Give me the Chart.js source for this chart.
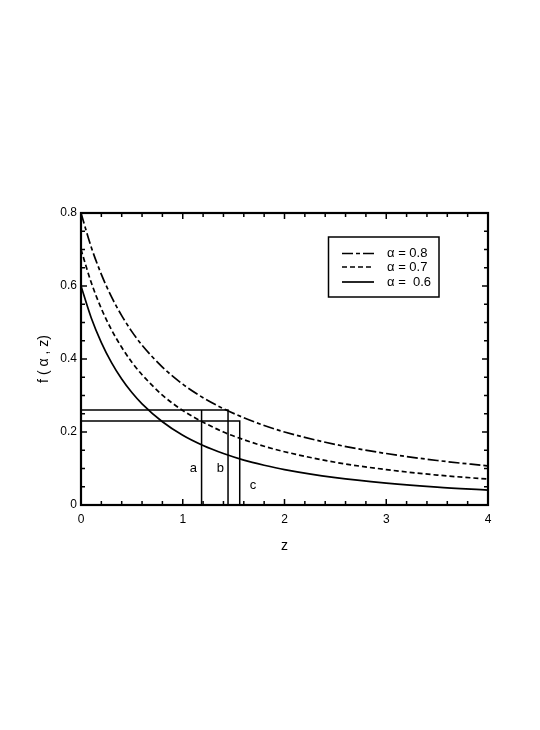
<!DOCTYPE html>
<html>
<head>
<meta charset="utf-8">
<title>f(alpha, z)</title>
<script src="https://cdn.jsdelivr.net/npm/chart.js@4.4.0/dist/chart.umd.min.js"></script>
<style>
  html, body { margin: 0; padding: 0; background: #fff; }
  #wrap { width: 540px; height: 730px; }
</style>
</head>
<body>
<div id="wrap"><canvas id="fChart" width="540" height="730"></canvas></div>
<script>
// curve samples
const zValues = [0, 0.1, 0.2, 0.3, 0.4, 0.5, 0.6, 0.8, 1.0, 1.2, 1.4, 1.6, 1.8, 2.0, 2.5, 3.0, 3.5, 4.0];
const fAlpha08 = [0.800, 0.707, 0.632, 0.570, 0.519, 0.475, 0.438, 0.378, 0.331, 0.294, 0.264, 0.239, 0.218, 0.200, 0.166, 0.141, 0.122, 0.107];
const fAlpha07 = [0.700, 0.610, 0.538, 0.480, 0.432, 0.391, 0.357, 0.301, 0.259, 0.227, 0.200, 0.179, 0.161, 0.146, 0.117, 0.097, 0.082, 0.071];
const fAlpha06 = [0.600, 0.513, 0.445, 0.390, 0.345, 0.308, 0.277, 0.228, 0.191, 0.163, 0.141, 0.123, 0.109, 0.097, 0.075, 0.060, 0.049, 0.041];
const seriesNames = ['\u03b1 = 0.8', '\u03b1 = 0.7', '\u03b1 =  0.6'];

// guide lines a, b, c and the two levels
const guideZ = [1.185, 1.445, 1.56];
const guideF = [0.26, 0.23];
const guideLabels = ['a', 'b', 'c'];
const guideLabelZ = [1.105, 1.37, 1.69];
const guideLabelF = [0.101, 0.101, 0.055];

const xTicks = [0, 1, 2, 3, 4];
const yTicks = [0, 0.2, 0.4, 0.6, 0.8];

const toPoints = (ys) => ys.map((y, i) => ({ x: zValues[i], y: y }));
const curveStyle = { borderColor: '#000', borderWidth: 1.7, pointRadius: 0, fill: false, tension: 0.4, cubicInterpolationMode: 'monotone' };
const guideStyle = { borderColor: '#000', borderWidth: 1.5, pointRadius: 0, fill: false, tension: 0 };

// rahmen, innenliegende ticks, legende und a/b/c
const framePlugin = {
    id: 'frame',
    afterDraw(chart) {
        const ctx = chart.ctx;
        const area = chart.chartArea;
        const xs = chart.scales.x, ys = chart.scales.y;
        ctx.save();
        ctx.strokeStyle = '#000';
        ctx.lineWidth = 1.5;
        ctx.setLineDash([]);
        ctx.beginPath();
        for (let k = 0; k <= 20; k++) {
            const px = xs.getPixelForValue(k * 0.2);
            const len = k % 5 === 0 ? 6 : 4;
            ctx.moveTo(px, area.bottom); ctx.lineTo(px, area.bottom - len);
            ctx.moveTo(px, area.top); ctx.lineTo(px, area.top + len);
        }
        for (let k = 0; k <= 16; k++) {
            const py = ys.getPixelForValue(k * 0.05);
            const len = k % 4 === 0 ? 6 : 4;
            ctx.moveTo(area.left, py); ctx.lineTo(area.left + len, py);
            ctx.moveTo(area.right, py); ctx.lineTo(area.right - len, py);
        }
        ctx.stroke();
        ctx.lineWidth = 2.2;
        ctx.strokeRect(area.left, area.top, area.right - area.left, area.bottom - area.top);

        // a, b, c
        ctx.fillStyle = '#000';
        ctx.font = '13px "Liberation Sans", Arial, sans-serif';
        ctx.textAlign = 'center';
        ctx.textBaseline = 'middle';
        guideLabels.forEach((t, i) => {
            ctx.fillText(t, xs.getPixelForValue(guideLabelZ[i]), ys.getPixelForValue(guideLabelF[i]));
        });

        // legende
        const bx = 328.5, by = 237, bw = 110.5, bh = 60;
        ctx.lineWidth = 1.5;
        ctx.strokeRect(bx, by, bw, bh);
        const rows = [253.5, 267, 282];
        ctx.textAlign = 'left';
        for (let i = 0; i < 3; i++) {
            const ds = chart.data.datasets[i];
            ctx.beginPath();
            ctx.lineWidth = 1.7;
            ctx.setLineDash(ds.borderDash || []);
            ctx.moveTo(342, rows[i]);
            ctx.lineTo(374, rows[i]);
            ctx.stroke();
            ctx.setLineDash([]);
            ctx.fillText(ds.label, 387, rows[i]);
        }
        ctx.restore();
    }
};

const ctx = document.getElementById('fChart').getContext('2d');
new Chart(ctx, {
    type: 'line',
    data: {
        datasets: [
            Object.assign({ label: seriesNames[0], data: toPoints(fAlpha08), borderDash: [11, 3, 4, 3] }, curveStyle),
            Object.assign({ label: seriesNames[1], data: toPoints(fAlpha07), borderDash: [5, 3] }, curveStyle),
            Object.assign({ label: seriesNames[2], data: toPoints(fAlpha06) }, curveStyle),
            Object.assign({ label: 'b', data: [{ x: 0, y: guideF[0] }, { x: guideZ[1], y: guideF[0] }, { x: guideZ[1], y: 0 }] }, guideStyle),
            Object.assign({ label: 'a', data: [{ x: guideZ[0], y: guideF[0] }, { x: guideZ[0], y: 0 }] }, guideStyle),
            Object.assign({ label: 'c', data: [{ x: 0, y: guideF[1] }, { x: guideZ[2], y: guideF[1] }, { x: guideZ[2], y: 0 }] }, guideStyle)
        ]
    },
    options: {
        responsive: false,
        animation: false,
        layout: { padding: { left: 0, top: 213, right: 52, bottom: 175 } },
        plugins: { legend: { display: false }, tooltip: { enabled: false } },
        scales: {
            x: {
                type: 'linear', min: 0, max: 4,
                afterBuildTicks: (s) => { s.ticks = xTicks.map(v => ({ value: v })); },
                afterFit: (s) => { s.height = 50; },
                grid: { display: false, drawTicks: false },
                border: { display: false },
                ticks: { color: '#000', padding: 7, maxRotation: 0, font: { family: '"Liberation Sans", Arial, sans-serif', size: 12 } },
                title: { display: true, text: 'z', color: '#000', padding: 0, font: { family: '"Liberation Sans", Arial, sans-serif', size: 14 } }
            },
            y: {
                type: 'linear', min: 0, max: 0.8,
                afterBuildTicks: (s) => { s.ticks = yTicks.map(v => ({ value: v })); },
                afterFit: (s) => { s.width = 81; },
                grid: { display: false, drawTicks: false },
                border: { display: false },
                ticks: { color: '#000', padding: 4, font: { family: '"Liberation Sans", Arial, sans-serif', size: 12 } },
                title: { display: true, text: 'f ( \u03b1 , z)', color: '#000', padding: { top: 36, bottom: 0 }, font: { family: '"Liberation Sans", Arial, sans-serif', size: 14 } }
            }
        }
    },
    plugins: [framePlugin]
});
</script>
</body>
</html>
